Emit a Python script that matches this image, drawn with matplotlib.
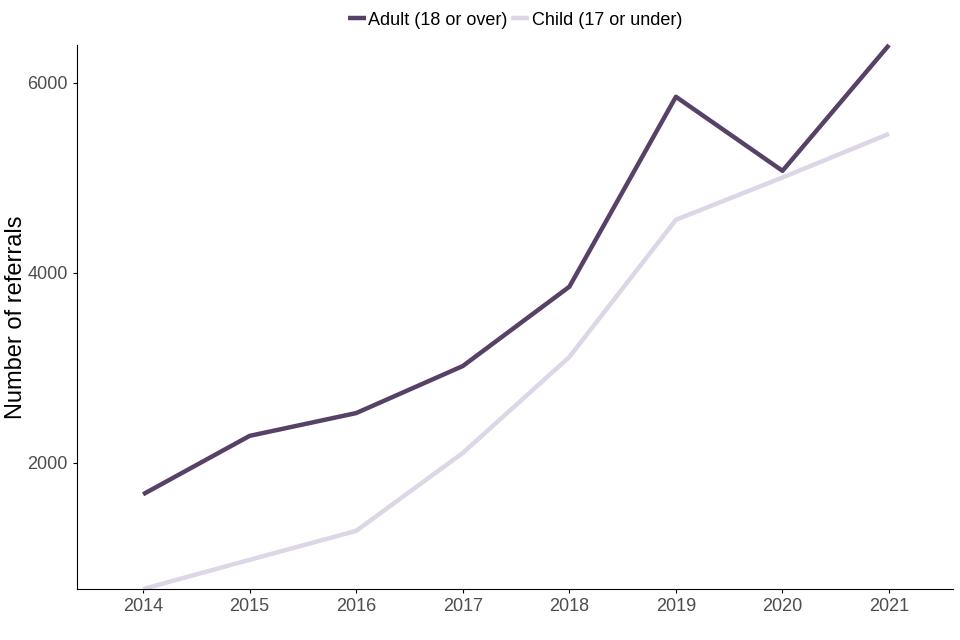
import matplotlib
matplotlib.use("Agg")
import matplotlib.pyplot as plt
import numpy as np

plt.rcParams['font.family'] = ['Liberation Sans', 'DejaVu Sans']

years = ['2014', '2015', '2016', '2017', '2018', '2019', '2020', '2021']
adult = [1670, 2285, 2525, 3020, 3855, 5855, 5075, 6400]
child = [673, 980, 1285, 2105, 3115, 4560, 5005, 5465]

x = np.arange(len(years))

fig = plt.figure(figsize=(9.6, 6.4), dpi=100)
ax = fig.add_axes([0.0802, 0.0797, 0.9125, 0.85])

ax.plot(x, adult, color='#574166', lw=3.2, label='Adult (18 or over)', clip_on=False,
        solid_capstyle='butt')
ax.plot(x, child, color='#ddd6e6', lw=3.2, label='Child (17 or under)', clip_on=False,
        solid_capstyle='butt')

ax.set_xlim(-0.62, len(years) - 1 + 0.6)
ax.set_ylim(min(child), max(adult))
ax.set_xticks(x)
ax.set_xticklabels(years)
ax.set_yticks([2000, 4000, 6000])
ax.tick_params(labelsize=13, labelcolor='#4d4d4d', length=3, width=0.8)

# y label placed by hand so the wide tick labels don't push it off the figure
fig.text(16 / 960, 0.505, 'Number of referrals', fontsize=17, rotation=90,
         ha='center', va='center')

for s in ['top', 'right']:
    ax.spines[s].set_visible(False)

ax.legend(loc='lower center', bbox_to_anchor=(0.5, 1.0), ncol=2, frameon=False,
          fontsize=13, handlelength=1.0, handletextpad=0.15, columnspacing=0.2,
          borderaxespad=0.5)

fig.savefig('out.png', dpi=100)
